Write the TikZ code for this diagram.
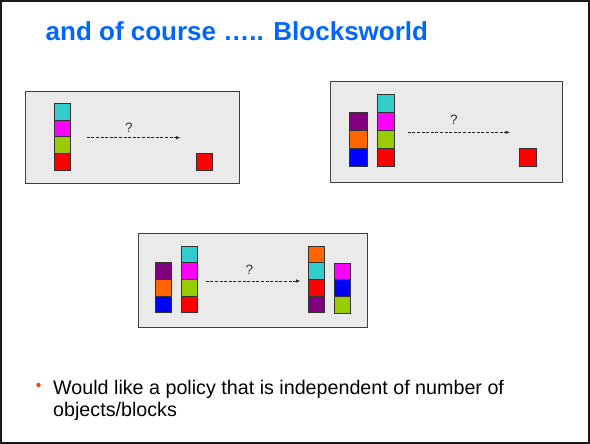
\documentclass[tikz,border=0pt]{standalone}
\usepackage{fontspec}
\setmainfont{Liberation Sans}
\usetikzlibrary{arrows.meta}

\definecolor{titleblue}{HTML}{0066FF}
\definecolor{bulletred}{HTML}{FF3D0F}
\definecolor{panelfill}{HTML}{EAEAEA}
\definecolor{paneledge}{HTML}{404040}
\definecolor{bcyan}{HTML}{33CCCC}
\definecolor{bmagenta}{HTML}{FF00FF}
\definecolor{bgreen}{HTML}{99CC00}
\definecolor{bred}{HTML}{FF0000}
\definecolor{bpurple}{HTML}{800080}
\definecolor{borange}{HTML}{FF6600}
\definecolor{bblue}{HTML}{0000FF}

\tikzset{
  panel/.style={draw=paneledge, fill=panelfill, line width=0.9pt},
  blk/.style={draw=black!80, line width=0.7pt, inner sep=0pt,
              minimum width=16.2pt, minimum height=16.6pt},
  bigblk/.style={blk, minimum width=17.5pt, minimum height=17.9pt},
  move/.style={dashed, dash pattern=on 3pt off 1.6pt, line width=0.8pt,
               draw=black!85, -{Latex[length=4.5pt,width=3.6pt]}},
  qmark/.style={font=\fontsize{13.5}{16}\selectfont, text=black!80,
                inner sep=0pt, anchor=base},
}

\begin{document}
\begin{tikzpicture}[x=1pt, y=-1pt]
\useasboundingbox (0,0) rectangle (590,444);
\fill[white] (0,0) rectangle (590,444);
\draw[line width=2pt, draw=black!90] (1,1) rectangle (589,442.5);

% heading
\node[anchor=base west, inner sep=0pt, text=titleblue,
      font=\fontsize{26}{31}\selectfont\bfseries] (title) at (45.5,40.7)
  {and of course ….. Blocksworld};

% --- first problem: one tower, goal is red on the table
\draw[panel] (25,91) rectangle (239,183.5);
\node[blk, fill=bred]     (a1) at (62.5,161.65) {};
\node[blk, fill=bgreen]   (a2) at (62.5,145.0) {};
\node[blk, fill=bmagenta] (a3) at (62.5,128.35) {};
\node[blk, fill=bcyan]    (a4) at (62.5,111.7) {};
\node[blk, fill=bred]     (ag) at (204.7,161.65) {};
\coordinate (as) at (86.7,137.7);
\coordinate (ae) at (180.5,137.7);
\draw[move] (as) -- (ae);
\node[qmark] (aq) at (129,132.6) {?};

% --- second problem: two towers, goal is red on the table
\draw[panel] (330,81) rectangle (562.5,182.5);
\node[bigblk, fill=bblue]    (b1) at (358.2,157.3) {};
\node[bigblk, fill=borange]  (b2) at (358.2,139.4) {};
\node[bigblk, fill=bpurple]  (b3) at (358.2,121.5) {};
\node[bigblk, fill=bred]     (c1) at (386.0,157.5) {};
\node[bigblk, fill=bgreen]   (c2) at (386.0,139.6) {};
\node[bigblk, fill=bmagenta] (c3) at (386.0,121.7) {};
\node[bigblk, fill=bcyan]    (c4) at (386.0,103.8) {};
\node[bigblk, fill=bred]     (bg) at (528.0,157.5) {};
\coordinate (bs) at (407.7,132.3);
\coordinate (be) at (510,132.3);
\draw[move] (bs) -- (be);
\node[qmark] (bq) at (454,124.6) {?};

% --- third problem: rearrange seven blocks into two new towers
\draw[panel] (138.3,233.3) rectangle (367,327.3);
\node[blk, fill=bblue]    (d1) at (163.7,304.2) {};
\node[blk, fill=borange]  (d2) at (163.7,287.6) {};
\node[blk, fill=bpurple]  (d3) at (163.7,271.0) {};
\node[blk, fill=bred]     (e1) at (189.5,304.2) {};
\node[blk, fill=bgreen]   (e2) at (189.5,287.6) {};
\node[blk, fill=bmagenta] (e3) at (189.5,271.0) {};
\node[blk, fill=bcyan]    (e4) at (189.5,254.4) {};
\node[blk, fill=bpurple]  (f1) at (316.7,304.2) {};
\node[blk, fill=bred]     (f2) at (316.7,287.6) {};
\node[blk, fill=bcyan]    (f3) at (316.7,271.0) {};
\node[blk, fill=borange]  (f4) at (316.7,254.4) {};
\node[blk, fill=bgreen]   (g1) at (342.0,304.6) {};
\node[blk, fill=bblue]    (g2) at (342.0,288.0) {};
\node[blk, fill=bmagenta] (g3) at (342.0,271.4) {};
\coordinate (cs) at (205.7,281);
\coordinate (ce) at (300.5,281);
\draw[move] (cs) -- (ce);
\node[qmark] (cq) at (249.3,274.2) {?};

% bullet point
\node[circle, fill=bulletred, inner sep=0pt, minimum size=4.4pt] (dot) at (38.5,385) {};
\node[anchor=base west, inner sep=0pt, font=\fontsize{19.7}{22}\selectfont] (l1)
  at (53,394.5) {Would like a policy that is independent of number of};
\node[anchor=base west, inner sep=0pt, font=\fontsize{19.7}{22}\selectfont] (l2)
  at (53,416.7) {objects/blocks};
\end{tikzpicture}
\end{document}
